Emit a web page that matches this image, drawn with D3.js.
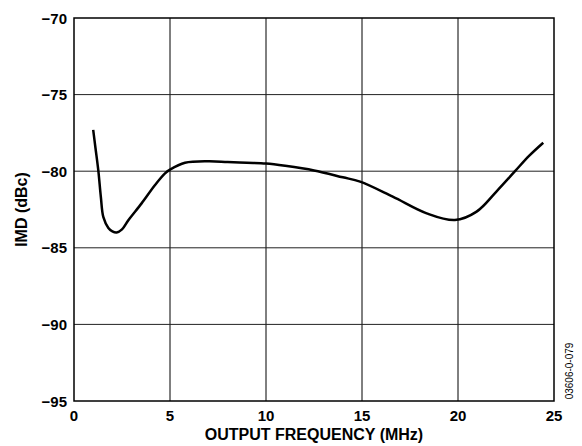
<!DOCTYPE html>
<html><head><meta charset="utf-8">
<script src="https://cdn.jsdelivr.net/npm/d3@7"></script>
<style>body{margin:0;background:#fff}svg{display:block}</style>
</head><body>
<svg id="c" width="582" height="446"></svg>
<script>
const freqMHz = [1.0, 1.12, 1.27, 1.4, 1.53, 1.79, 2.0, 2.22, 2.5, 2.83, 3.52, 4.22, 4.74, 5.0, 5.78, 7.0, 8.0, 9.0, 10.0, 11.0, 12.5, 14.0, 14.9, 16.6, 18.37, 19.84, 20.97, 22.0, 22.97, 23.7, 24.44];
const imdDBc  = [-77.3, -78.5, -80.0, -81.7, -83.0, -83.7, -83.93, -84.0, -83.8, -83.2, -82.1, -80.9, -80.14, -79.9, -79.45, -79.35, -79.4, -79.45, -79.5, -79.65, -79.95, -80.4, -80.68, -81.66, -82.75, -83.19, -82.64, -81.33, -80.0, -79.0, -78.14];
const xTicks = [0, 5, 10, 15, 20, 25];
const yTicks = [-95, -90, -85, -80, -75, -70];
const xTitle = "OUTPUT FREQUENCY (MHz)";
const yTitle = "IMD (dBc)";
const code = "03606-0-079";

const L = 74, R = 554, T = 18, B = 401;
const svg = d3.select("#c");
const x = d3.scaleLinear().domain([0, 25]).range([L, R]);
const y = d3.scaleLinear().domain([-95, -70]).range([B, T]);
const fmt = d => d < 0 ? "\u2212" + Math.abs(d) : String(d);
const font = "'Liberation Sans', Arial, sans-serif";

// grid
svg.append("g").selectAll("line").data(xTicks.slice(1, -1)).join("line")
  .attr("x1", d => x(d)).attr("x2", d => x(d)).attr("y1", T).attr("y2", B)
  .attr("stroke", "#000").attr("stroke-width", 1);
svg.append("g").selectAll("line").data(yTicks.slice(1, -1)).join("line")
  .attr("y1", d => y(d)).attr("y2", d => y(d)).attr("x1", L).attr("x2", R)
  .attr("stroke", "#222").attr("stroke-width", 1);

// frame
svg.append("rect").attr("x", L).attr("y", T).attr("width", R - L).attr("height", B - T)
  .attr("fill", "none").attr("stroke", "#000").attr("stroke-width", 1.5);

// curve
const line = d3.line().x(d => x(d[0])).y(d => y(d[1])).curve(d3.curveCatmullRom.alpha(0.5));
svg.append("path").datum(freqMHz.map((f, i) => [f, imdDBc[i]]))
  .attr("d", line).attr("fill", "none").attr("stroke", "#000").attr("stroke-width", 2.5)
  .attr("stroke-linejoin", "round").attr("stroke-linecap", "butt");

// tick labels
svg.append("g").selectAll("text").data(xTicks).join("text")
  .attr("x", d => x(d)).attr("y", 421).attr("text-anchor", "middle")
  .attr("font-family", font).attr("font-weight", "bold").attr("font-size", 15)
  .text(d => d);
svg.append("g").selectAll("text").data(yTicks).join("text")
  .attr("x", 67).attr("y", d => y(d) + 5.5).attr("text-anchor", "end")
  .attr("font-family", font).attr("font-weight", "bold").attr("font-size", 15)
  .text(fmt);

// titles
svg.append("text").attr("x", (L + R) / 2).attr("y", 439.5).attr("text-anchor", "middle")
  .attr("font-family", font).attr("font-weight", "bold").attr("font-size", 16).text(xTitle);
svg.append("text").attr("transform", `translate(27,${(T + B) / 2}) rotate(-90)`)
  .attr("text-anchor", "middle")
  .attr("font-family", font).attr("font-weight", "bold").attr("font-size", 16).text(yTitle);
svg.append("text").attr("transform", "translate(572.5,371) rotate(-90)")
  .attr("text-anchor", "middle")
  .attr("font-family", font).attr("font-size", 10).text(code);
</script>
</body></html>
